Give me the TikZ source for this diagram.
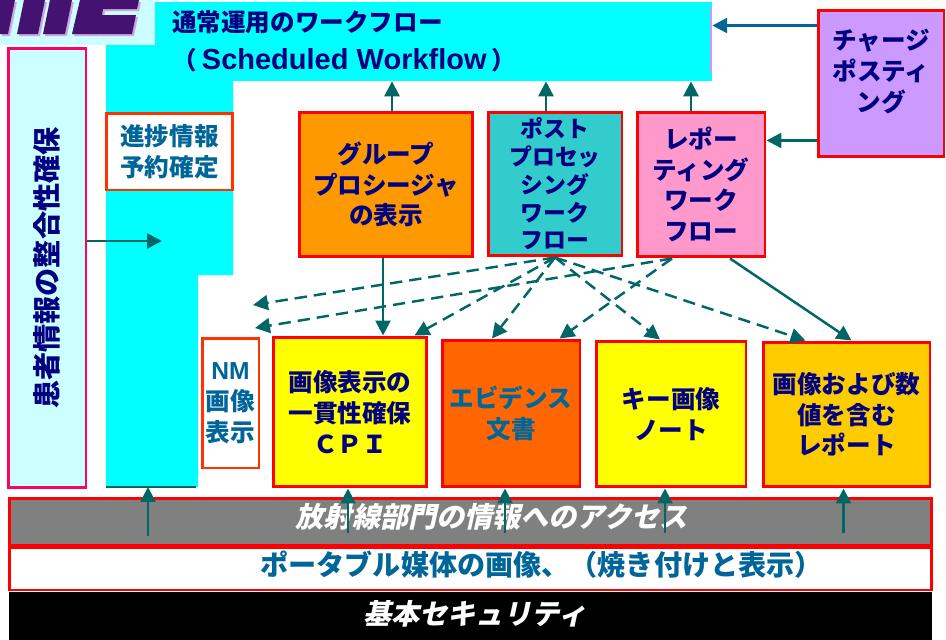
\documentclass[tikz,border=0pt]{standalone}
\usepackage{fontspec}
\setmainfont{Noto Sans CJK JP}
\newfontfamily\latinfont{Liberation Sans}
\newfontfamily\slantfont{Noto Sans CJK JP}[FakeSlant=0.22]
\usetikzlibrary{arrows.meta,calc}
\definecolor{navytext}{RGB}{0,0,128}
\definecolor{steel}{RGB}{0,102,153}
\definecolor{arrowteal}{RGB}{0,102,102}
\definecolor{boxred}{RGB}{255,0,0}
\definecolor{tagred}{RGB}{255,51,0}
\definecolor{pirred}{RGB}{255,0,102}
\definecolor{wfcyan}{RGB}{0,255,255}
\definecolor{lightcyan}{RGB}{204,255,255}
\definecolor{grporange}{RGB}{255,153,0}
\definecolor{postteal}{RGB}{51,204,204}
\definecolor{rptpink}{RGB}{255,153,204}
\definecolor{chargepurple}{RGB}{204,153,255}
\definecolor{cpiyellow}{RGB}{255,255,0}
\definecolor{evidorange}{RGB}{255,102,0}
\definecolor{repgold}{RGB}{255,204,0}
\definecolor{bandgray}{RGB}{128,128,128}
\definecolor{logopurple}{RGB}{68,18,112}
\definecolor{logoshade}{RGB}{205,165,225}
\tikzset{
  cardtext/.style={align=center, text=navytext, font=\bfseries\fontsize{14}{17.5}\selectfont},
  card/.style={cardtext, draw=boxred, line width=1.7pt, inner sep=1pt},
  tag/.style={card, draw=tagred, fill=white, text=steel},
  band/.style={minimum width=18.46cm, inner sep=0pt},
  bandtext/.style={font=\fontsize{16}{19}\selectfont},
  flow/.style={-{Triangle[length=8.5pt,width=8.5pt]}, line width=1.5pt, arrowteal},
  dflow/.style={flow, line width=1.4pt, dash pattern=on 7pt off 4pt},
  blueflow/.style={flow, steel},
}
\begin{document}
\begin{tikzpicture}[x=0.02cm, y=-0.02cm]
  \useasboundingbox (0,0) rectangle (946,639);

  % logo fragment, top left
  \fill[lightcyan] (0,0) rectangle (155,45);
  \foreach \s/\c in {2/logoshade, 0/logopurple} {
    \begin{scope}[shift={(\s,\s)}]
      \fill[\c] (0,0) -- (15,0) -- (8,34) -- (0,34) -- cycle;
      \fill[\c] (24,0) -- (45,0) -- (38,34) -- (17,34) -- cycle;
      \fill[\c] (50,0) -- (72,0) -- (65,34) -- (43,34) -- cycle;
      \fill[\c] (80,0) -- (139,0) -- (137,9) -- (103,9) -- (102,15) -- (136,15) -- (132,34) -- (72,34) -- cycle;
    \end{scope}
  }

  % scheduled workflow area
  \fill[wfcyan] (106,45) -- (155,45) -- (155,81) -- (233,81) -- (233,275) -- (198,275) -- (198,487) -- (106,487) -- cycle;
  \node[fill=wfcyan, minimum width=11.14cm, minimum height=1.58cm, text width=10.46cm,
        inner xsep=0.34cm, inner ysep=0pt, align=left, text=navytext,
        font=\bfseries\fontsize{14}{21.5}\selectfont] (wf) at (433.5,41.5)
        {通常運用のワークフロー\\（\hspace{3pt}{\latinfont\fontsize{16.5}{21.5}\selectfont Scheduled Workflow}\hspace{3pt}）};
  \draw[chargepurple, line width=0.8pt] (711,8) -- (711,72);
  \draw[arrowteal, line width=1.2pt] (106,487) -- (196,487);
  \coordinate (colbot) at (148,487);

  % left column
  \node[draw=pirred, fill=lightcyan, line width=1.7pt, minimum width=1.56cm, minimum height=8.8cm,
        label={[rotate=90, text=navytext, font=\bfseries\fontsize{16}{19}\selectfont]center:患者情報の整合性確保}] (pir) at (47,268) {};
  \node[tag, minimum width=2.54cm, minimum height=1.54cm] (prog) at (169.5,151.5) {進捗情報\\予約確定};
  \node[tag, minimum width=1.14cm, minimum height=2.6cm] (nm) at (230.5,403) {{\latinfont NM}\\画像\\表示};

  % upper row
  \node[card, fill=grporange, minimum width=3.48cm, minimum height=2.9cm] (grp) at (386,184.5) {グループ\\プロシージャ\\の表示};
  \node[card, fill=postteal, font=\bfseries\fontsize{13}{15.8}\selectfont, minimum width=2.68cm, minimum height=2.88cm] (post) at (555,184) {ポスト\\プロセッ\\シング\\ワーク\\フロー};
  \node[card, fill=rptpink, minimum width=2.56cm, minimum height=2.9cm] (rptwf) at (701,184.5) {レポー\\ティング\\ワーク\\フロー};
  \node[card, fill=chargepurple, minimum width=2.52cm, minimum height=2.94cm,
        label={[cardtext, yshift=6.8pt]center:チャージ\\ポスティ\\ング}] (charge) at (881,83.5) {};

  % lower row
  \node[card, fill=cpiyellow, minimum width=3.08cm, minimum height=3cm] (cpi) at (350,412) {画像表示の\\一貫性確保\\ＣＰＩ};
  \node[card, fill=evidorange, text=steel, minimum width=2.76cm, minimum height=2.94cm] (evid) at (511,413.5) {エビデンス\\文書};
  \node[card, fill=cpiyellow, minimum width=3cm, minimum height=2.92cm] (key) at (671,414) {キー画像\\ノート};
  \node[card, fill=repgold, minimum width=3.34cm, minimum height=2.9cm] (rep) at (846.5,414.5) {画像および数\\値を含む\\レポート};

  % bottom bands
  \node[band, draw=boxred, line width=1.7pt, fill=bandgray, minimum height=0.94cm,
        label={[bandtext, text=white, xshift=12.2pt, yshift=2.5pt]center:{\slantfont\bfseries 放射線部門の情報へのアクセス}}] (access) at (470.5,521.5) {};
  \node[band, draw=boxred, line width=1.7pt, fill=white, minimum height=0.86cm,
        label={[bandtext, text=steel, xshift=40.5pt, yshift=2pt]center:{\bfseries ポータブル媒体の画像、（焼き付けと表示）}}] (portable) at (470.5,568.5) {};
  \node[band, fill=black, minimum height=0.96cm,
        label={[bandtext, text=white, xshift=2.5pt, yshift=1pt]center:{\slantfont\bfseries 基本セキュリティ}}] (security) at (470.5,616) {};

  % into the scheduled workflow
  \foreach \b/\dx in {grp/6, post/-9, rptwf/-10} {
    \coordinate (up) at ($(\b.north)+(\dx,0)$);
    \draw[flow] (up) -- (up |- wf.south);
  }
  \coordinate (chg1) at ($(charge.north west)+(0,17)$);
  \draw[blueflow] (chg1) -- (chg1 -| wf.east);
  \coordinate (chg2) at ($(charge.south west)+(0,-18)$);
  \draw[flow] (chg2) -- (chg2 -| rptwf.east);
  \coordinate (pirin) at (162,241);
  \draw[flow] (pirin -| pir.east) -- (pirin);
  \coordinate (grpdown) at ($(grp.south)+(-3,0)$);
  \draw[flow] (grpdown) -- (grpdown |- cpi.north);

  % dashed links from the upper row
  \coordinate (nmA) at (253,305);
  \coordinate (nmB) at (255,328);
  \coordinate (rp) at ($(rptwf.south)+(-29,0)$);
  \draw[dflow] (post.south) -- (nmA);
  \draw[dflow] (post.south) -- ($(cpi.north east)+(-14,0)$);
  \draw[dflow] (post.south) -- ($(evid.north)+(-19,0)$);
  \draw[dflow] (post.south) -- ($(key.north)+(-11,0)$);
  \draw[dflow] (post.south) -- ($(rep.north west)+(44,0)$);
  \draw[dflow] (rp) -- (nmB);
  \draw[dflow] (rp) -- ($(evid.north east)+(-22,0)$);
  \draw[flow, line width=1.4pt] ($(rptwf.south)+(29,0)$) -- ($(rep.north)+(5,0)$);

  % up from the access band
  \draw[flow] (access.north -| colbot) ++(0,39) -- (colbot);
  \foreach \b/\dx in {cpi/-2, evid/-6, key/-6, rep/-3}
    \draw[flow] ($(\b.south)+(\dx,45)$) -- ($(\b.south)+(\dx,0)$);
\end{tikzpicture}
\end{document}
